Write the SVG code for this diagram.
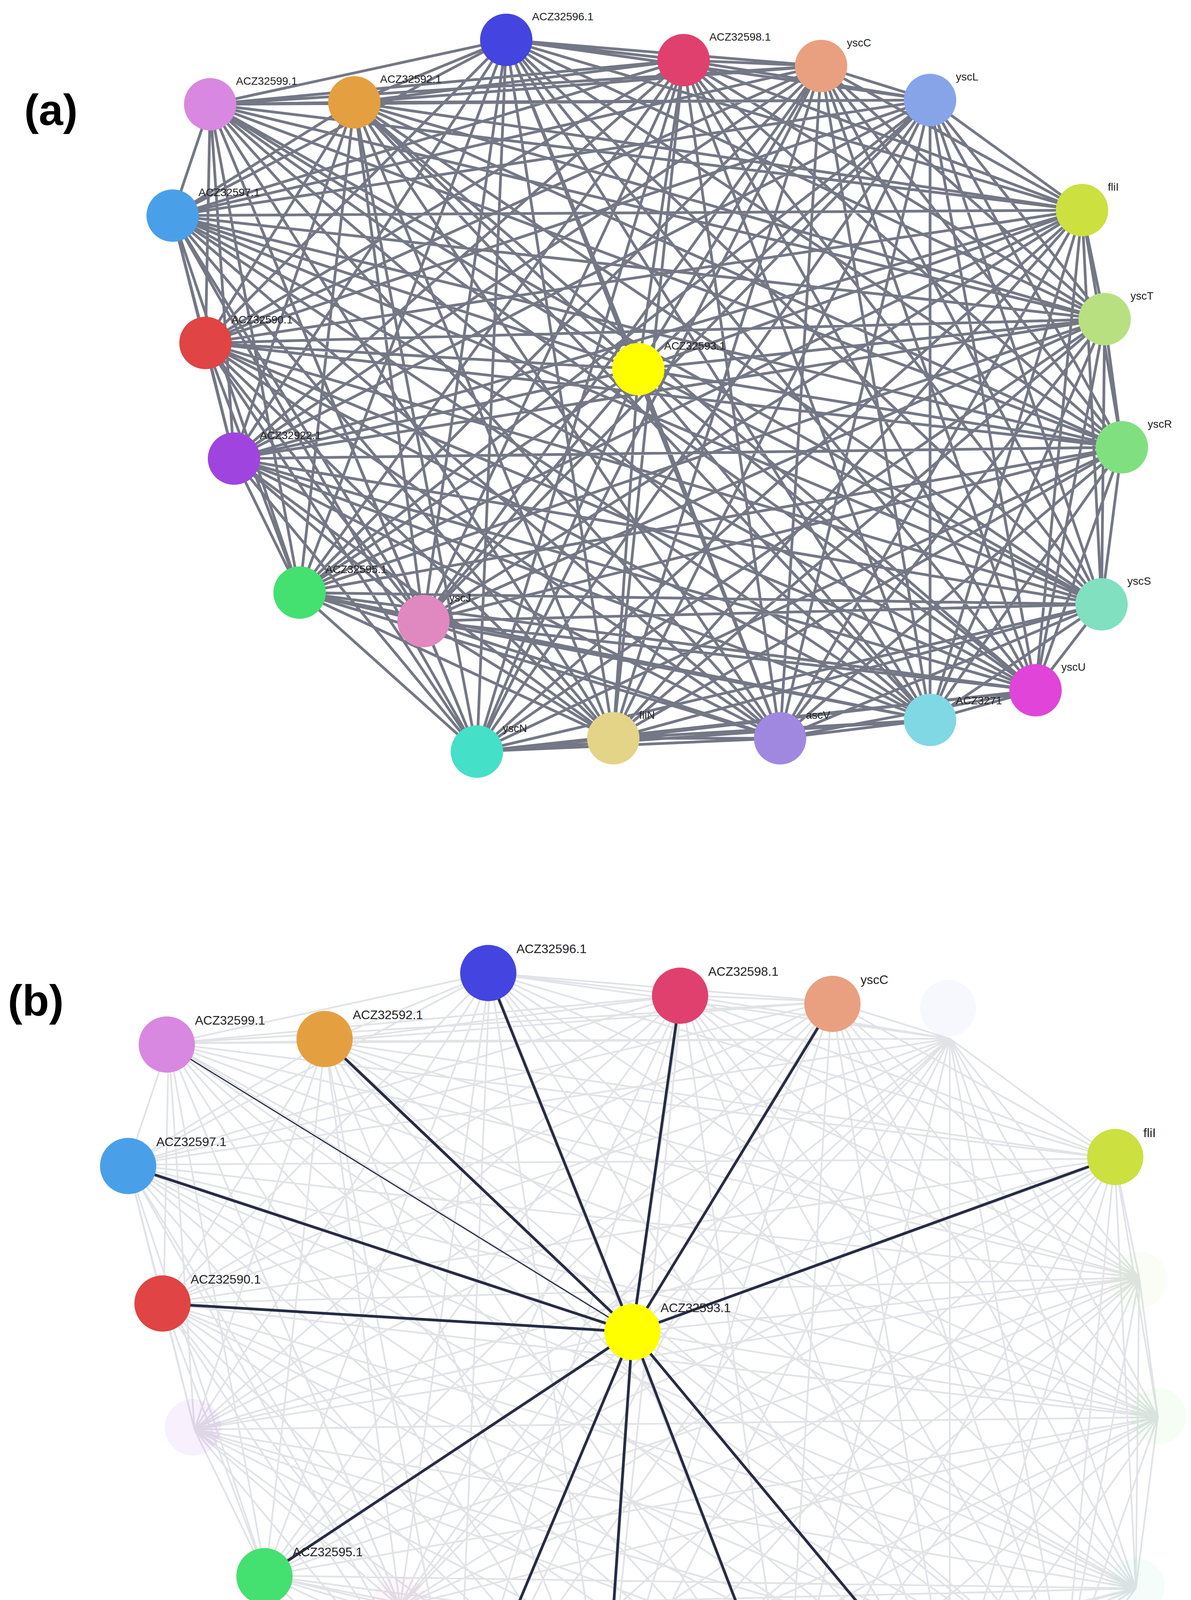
<svg xmlns="http://www.w3.org/2000/svg" xmlns:xlink="http://www.w3.org/1999/xlink" width="3049" height="4561" viewBox="0 0 3049 4561">
<style>
.ea{fill:none;stroke:#3e4356;stroke-width:7;stroke-opacity:0.72;stroke-linejoin:round;stroke-linecap:round}
.eb{fill:none;stroke:#c9ccd4;stroke-width:4;stroke-opacity:0.55;stroke-linejoin:round;stroke-linecap:round}
.hi{stroke:#272c44;stroke-width:7;stroke-linecap:round}
.la{font-family:"Liberation Sans",Arial,sans-serif;font-size:28px;fill:#222}
.lb{font-family:"Liberation Sans",Arial,sans-serif;font-size:32px;fill:#222}
.pl{font-family:"Liberation Sans",Arial,sans-serif;font-size:112px;font-weight:bold;fill:#000}
.f{opacity:0.08}
</style>
<defs>
<path id="E" d="M1296 102 1750 154 1296 102 2102 169 1296 102 2381 256 1296 102 538 267 1296 102 907 262 1296 102 442 552 1296 102 2770 538 1296 102 2828 817 1296 102 526 878 1296 102 1634 945 1296 102 2872 1145 1296 102 599 1174 1296 102 767 1517 1296 102 1084 1590 1296 102 2820 1547 1296 102 2651 1767 1296 102 2381 1843 1296 102 1997 1890 1296 102 1570 1890 1296 102 1221 1924
M1750 154 2102 169 1750 154 2381 256 1750 154 538 267 1750 154 907 262 1750 154 442 552 1750 154 2770 538 1750 154 2828 817 1750 154 526 878 1750 154 1634 945 1750 154 2872 1145 1750 154 599 1174 1750 154 767 1517 1750 154 1084 1590 1750 154 2820 1547 1750 154 2651 1767 1750 154 2381 1843 1750 154 1997 1890 1750 154 1570 1890 1750 154 1221 1924
M2102 169 2381 256 2102 169 538 267 2102 169 907 262 2102 169 442 552 2102 169 2770 538 2102 169 2828 817 2102 169 526 878 2102 169 1634 945 2102 169 2872 1145 2102 169 599 1174 2102 169 767 1517 2102 169 1084 1590 2102 169 2820 1547 2102 169 2651 1767 2102 169 2381 1843 2102 169 1997 1890 2102 169 1570 1890 2102 169 1221 1924
M2381 256 538 267 2381 256 907 262 2381 256 442 552 2381 256 2770 538 2381 256 2828 817 2381 256 526 878 2381 256 1634 945 2381 256 2872 1145 2381 256 599 1174 2381 256 767 1517 2381 256 1084 1590 2381 256 2820 1547 2381 256 2651 1767 2381 256 2381 1843 2381 256 1997 1890 2381 256 1570 1890 2381 256 1221 1924
M538 267 907 262 538 267 442 552 538 267 2770 538 538 267 2828 817 538 267 526 878 538 267 1634 945 538 267 2872 1145 538 267 599 1174 538 267 767 1517 538 267 1084 1590 538 267 2820 1547 538 267 2651 1767 538 267 2381 1843 538 267 1997 1890 538 267 1570 1890 538 267 1221 1924
M907 262 442 552 907 262 2770 538 907 262 2828 817 907 262 526 878 907 262 1634 945 907 262 2872 1145 907 262 599 1174 907 262 767 1517 907 262 1084 1590 907 262 2820 1547 907 262 2651 1767 907 262 2381 1843 907 262 1997 1890 907 262 1570 1890 907 262 1221 1924
M442 552 2770 538 442 552 2828 817 442 552 526 878 442 552 1634 945 442 552 2872 1145 442 552 599 1174 442 552 767 1517 442 552 1084 1590 442 552 2820 1547 442 552 2651 1767 442 552 2381 1843 442 552 1997 1890 442 552 1570 1890 442 552 1221 1924
M2770 538 2828 817 2770 538 526 878 2770 538 1634 945 2770 538 2872 1145 2770 538 599 1174 2770 538 767 1517 2770 538 1084 1590 2770 538 2820 1547 2770 538 2651 1767 2770 538 2381 1843 2770 538 1997 1890 2770 538 1570 1890 2770 538 1221 1924
M2828 817 526 878 2828 817 1634 945 2828 817 2872 1145 2828 817 599 1174 2828 817 767 1517 2828 817 1084 1590 2828 817 2820 1547 2828 817 2651 1767 2828 817 2381 1843 2828 817 1997 1890 2828 817 1570 1890 2828 817 1221 1924
M526 878 1634 945 526 878 2872 1145 526 878 599 1174 526 878 767 1517 526 878 1084 1590 526 878 2820 1547 526 878 2651 1767 526 878 2381 1843 526 878 1997 1890 526 878 1570 1890 526 878 1221 1924
M1634 945 2872 1145 1634 945 599 1174 1634 945 767 1517 1634 945 1084 1590 1634 945 2820 1547 1634 945 2651 1767 1634 945 2381 1843 1634 945 1997 1890 1634 945 1570 1890 1634 945 1221 1924
M2872 1145 599 1174 2872 1145 767 1517 2872 1145 1084 1590 2872 1145 2820 1547 2872 1145 2651 1767 2872 1145 2381 1843 2872 1145 1997 1890 2872 1145 1570 1890 2872 1145 1221 1924
M599 1174 767 1517 599 1174 1084 1590 599 1174 2820 1547 599 1174 2651 1767 599 1174 2381 1843 599 1174 1997 1890 599 1174 1570 1890 599 1174 1221 1924
M767 1517 1084 1590 767 1517 2820 1547 767 1517 2651 1767 767 1517 2381 1843 767 1517 1997 1890 767 1517 1570 1890 767 1517 1221 1924
M1084 1590 2820 1547 1084 1590 2651 1767 1084 1590 2381 1843 1084 1590 1997 1890 1084 1590 1570 1890 1084 1590 1221 1924
M2820 1547 2651 1767 2820 1547 2381 1843 2820 1547 1997 1890 2820 1547 1570 1890 2820 1547 1221 1924
M2651 1767 2381 1843 2651 1767 1997 1890 2651 1767 1570 1890 2651 1767 1221 1924
M2381 1843 1997 1890 2381 1843 1570 1890 2381 1843 1221 1924
M1997 1890 1570 1890 1997 1890 1221 1924
M1570 1890 1221 1924"/>
</defs>
<rect width="3049" height="4561" fill="#fff"/>
<text class="pl" x="62" y="320">(a)</text>
<text class="pl" x="20" y="2600">(b)</text>
<g id="connectors">
<use xlink:href="#E" class="ea"/>
<use xlink:href="#E" class="eb" transform="translate(-152,2380) scale(1.085,1.09)"/>
<g class="hi">
<line x1="1619" y1="3410" x2="1250" y2="2491"/>
<line x1="1619" y1="3410" x2="1741" y2="2549"/>
<line x1="1619" y1="3410" x2="2131" y2="2570"/>
<line x1="1619" y1="3410" x2="2855" y2="2962"/>
<line x1="1619" y1="3410" x2="831" y2="2660"/>
<line x1="1619" y1="3410" x2="427" y2="2674" style="stroke-width:3"/>
<line x1="1619" y1="3410" x2="328" y2="2985"/>
<line x1="1619" y1="3410" x2="416" y2="3337"/>
<line x1="1619" y1="3410" x2="677" y2="4035"/>
<line x1="1619" y1="3410" x2="1171" y2="4477"/>
<line x1="1619" y1="3410" x2="1549" y2="4427"/>
<line x1="1619" y1="3410" x2="2012" y2="4433"/>
<line x1="1619" y1="3410" x2="2430" y2="4384"/>
</g>
</g>
<g id="a-ACZ32596.1"><circle cx="1296" cy="102" r="67" fill="#4444e0"/><text class="la" x="1362" y="52">ACZ32596.1</text></g>
<g id="a-ACZ32598.1"><circle cx="1750" cy="154" r="67" fill="#e0406e"/><text class="la" x="1816" y="104">ACZ32598.1</text></g>
<g id="a-yscC"><circle cx="2102" cy="169" r="67" fill="#e8a080"/><text class="la" x="2168" y="119">yscC</text></g>
<g id="a-yscL"><circle cx="2381" cy="256" r="67" fill="#88a4e8"/><text class="la" x="2447" y="206">yscL</text></g>
<g id="a-ACZ32599.1"><circle cx="538" cy="267" r="67" fill="#d888e0"/><text class="la" x="604" y="217">ACZ32599.1</text></g>
<g id="a-ACZ32592.1"><circle cx="907" cy="262" r="67" fill="#e4a040"/><text class="la" x="973" y="212">ACZ32592.1</text></g>
<g id="a-ACZ32597.1"><circle cx="442" cy="552" r="67" fill="#4aa0e8"/><text class="la" x="508" y="502">ACZ32597.1</text></g>
<g id="a-fliI"><circle cx="2770" cy="538" r="67" fill="#cce040"/><text class="la" x="2836" y="488">fliI</text></g>
<g id="a-yscT"><circle cx="2828" cy="817" r="67" fill="#b8e080"/><text class="la" x="2894" y="767">yscT</text></g>
<g id="a-ACZ32590.1"><circle cx="526" cy="878" r="67" fill="#e04444"/><text class="la" x="592" y="828">ACZ32590.1</text></g>
<g id="a-ACZ32593.1"><circle cx="1634" cy="945" r="67" fill="#ffff00"/><text class="la" x="1700" y="895">ACZ32593.1</text></g>
<g id="a-yscR"><circle cx="2872" cy="1145" r="67" fill="#80e080"/><text class="la" x="2938" y="1095">yscR</text></g>
<g id="a-ACZ32922.1"><circle cx="599" cy="1174" r="67" fill="#a044e0"/><text class="la" x="665" y="1124">ACZ32922.1</text></g>
<g id="a-ACZ32595.1"><circle cx="767" cy="1517" r="67" fill="#44e070"/><text class="la" x="833" y="1467">ACZ32595.1</text></g>
<g id="a-yscJ"><circle cx="1084" cy="1590" r="67" fill="#e088c0"/><text class="la" x="1150" y="1540">yscJ</text></g>
<g id="a-yscS"><circle cx="2820" cy="1547" r="67" fill="#80e0c0"/><text class="la" x="2886" y="1497">yscS</text></g>
<g id="a-yscU"><circle cx="2651" cy="1767" r="67" fill="#e044d8"/><text class="la" x="2717" y="1717">yscU</text></g>
<g id="a-ACZ3271"><text class="la" x="2447" y="1803">ACZ3271</text><circle cx="2381" cy="1843" r="67" fill="#80d8e4"/></g>
<g id="a-ascV"><circle cx="1997" cy="1890" r="67" fill="#a088e0"/><text class="la" x="2063" y="1840">ascV</text></g>
<g id="a-fliN"><circle cx="1570" cy="1890" r="67" fill="#e4d488"/><text class="la" x="1636" y="1840">fliN</text></g>
<g id="a-yscN"><circle cx="1221" cy="1924" r="67" fill="#44e0c8"/><text class="la" x="1287" y="1874">yscN</text></g>

<g id="b-ACZ32596.1"><circle cx="1250" cy="2491" r="72" fill="#4444e0"/><text class="lb" x="1322" y="2440">ACZ32596.1</text></g>
<g id="b-ACZ32598.1"><circle cx="1741" cy="2549" r="72" fill="#e0406e"/><text class="lb" x="1813" y="2498">ACZ32598.1</text></g>
<g id="b-yscC"><circle cx="2131" cy="2570" r="72" fill="#e8a080"/><text class="lb" x="2203" y="2519">yscC</text></g>
<g id="b-yscL"><circle class="f" cx="2427" cy="2581" r="72" fill="#88a4e8"/></g>
<g id="b-ACZ32599.1"><circle cx="427" cy="2674" r="72" fill="#d888e0"/><text class="lb" x="499" y="2623">ACZ32599.1</text></g>
<g id="b-ACZ32592.1"><circle cx="831" cy="2660" r="72" fill="#e4a040"/><text class="lb" x="903" y="2609">ACZ32592.1</text></g>
<g id="b-ACZ32597.1"><circle cx="328" cy="2985" r="72" fill="#4aa0e8"/><text class="lb" x="400" y="2934">ACZ32597.1</text></g>
<g id="b-fliI"><circle cx="2855" cy="2962" r="72" fill="#cce040"/><text class="lb" x="2927" y="2911">fliI</text></g>
<g id="b-yscT"><circle class="f" cx="2916" cy="3276" r="72" fill="#b8e080"/></g>
<g id="b-ACZ32590.1"><circle cx="416" cy="3337" r="72" fill="#e04444"/><text class="lb" x="488" y="3286">ACZ32590.1</text></g>
<g id="b-ACZ32593.1"><circle cx="1619" cy="3410" r="72" fill="#ffff00"/><text class="lb" x="1691" y="3359">ACZ32593.1</text></g>
<g id="b-yscR"><circle class="f" cx="2965" cy="3625" r="72" fill="#80e080"/></g>
<g id="b-ACZ32922.1"><circle class="f" cx="494" cy="3654" r="72" fill="#a044e0"/></g>
<g id="b-ACZ32595.1"><circle cx="677" cy="4035" r="72" fill="#44e070"/><text class="lb" x="749" y="3984">ACZ32595.1</text></g>
<g id="b-yscJ"><circle class="f" cx="1023" cy="4108" r="72" fill="#e088c0"/></g>
<g id="b-yscS"><circle class="f" cx="2910" cy="4061" r="72" fill="#80e0c0"/></g>
<g id="b-yscU"><circle class="f" cx="2727" cy="4299" r="72" fill="#e044d8"/></g>
<g id="b-ACZ32717.1"><circle cx="2430" cy="4384" r="72" fill="#80d8e4"/><text class="lb" x="2502" y="4333">ACZ32717.1</text></g>
<g id="b-ascV"><circle cx="2012" cy="4433" r="72" fill="#a088e0"/><text class="lb" x="2084" y="4382">ascV</text></g>
<g id="b-fliN"><circle cx="1549" cy="4427" r="72" fill="#e4d488"/><text class="lb" x="1621" y="4376">fliN</text></g>
<g id="b-yscN"><circle cx="1171" cy="4477" r="72" fill="#44e0c8"/><text class="lb" x="1243" y="4426">yscN</text></g>
</svg>
